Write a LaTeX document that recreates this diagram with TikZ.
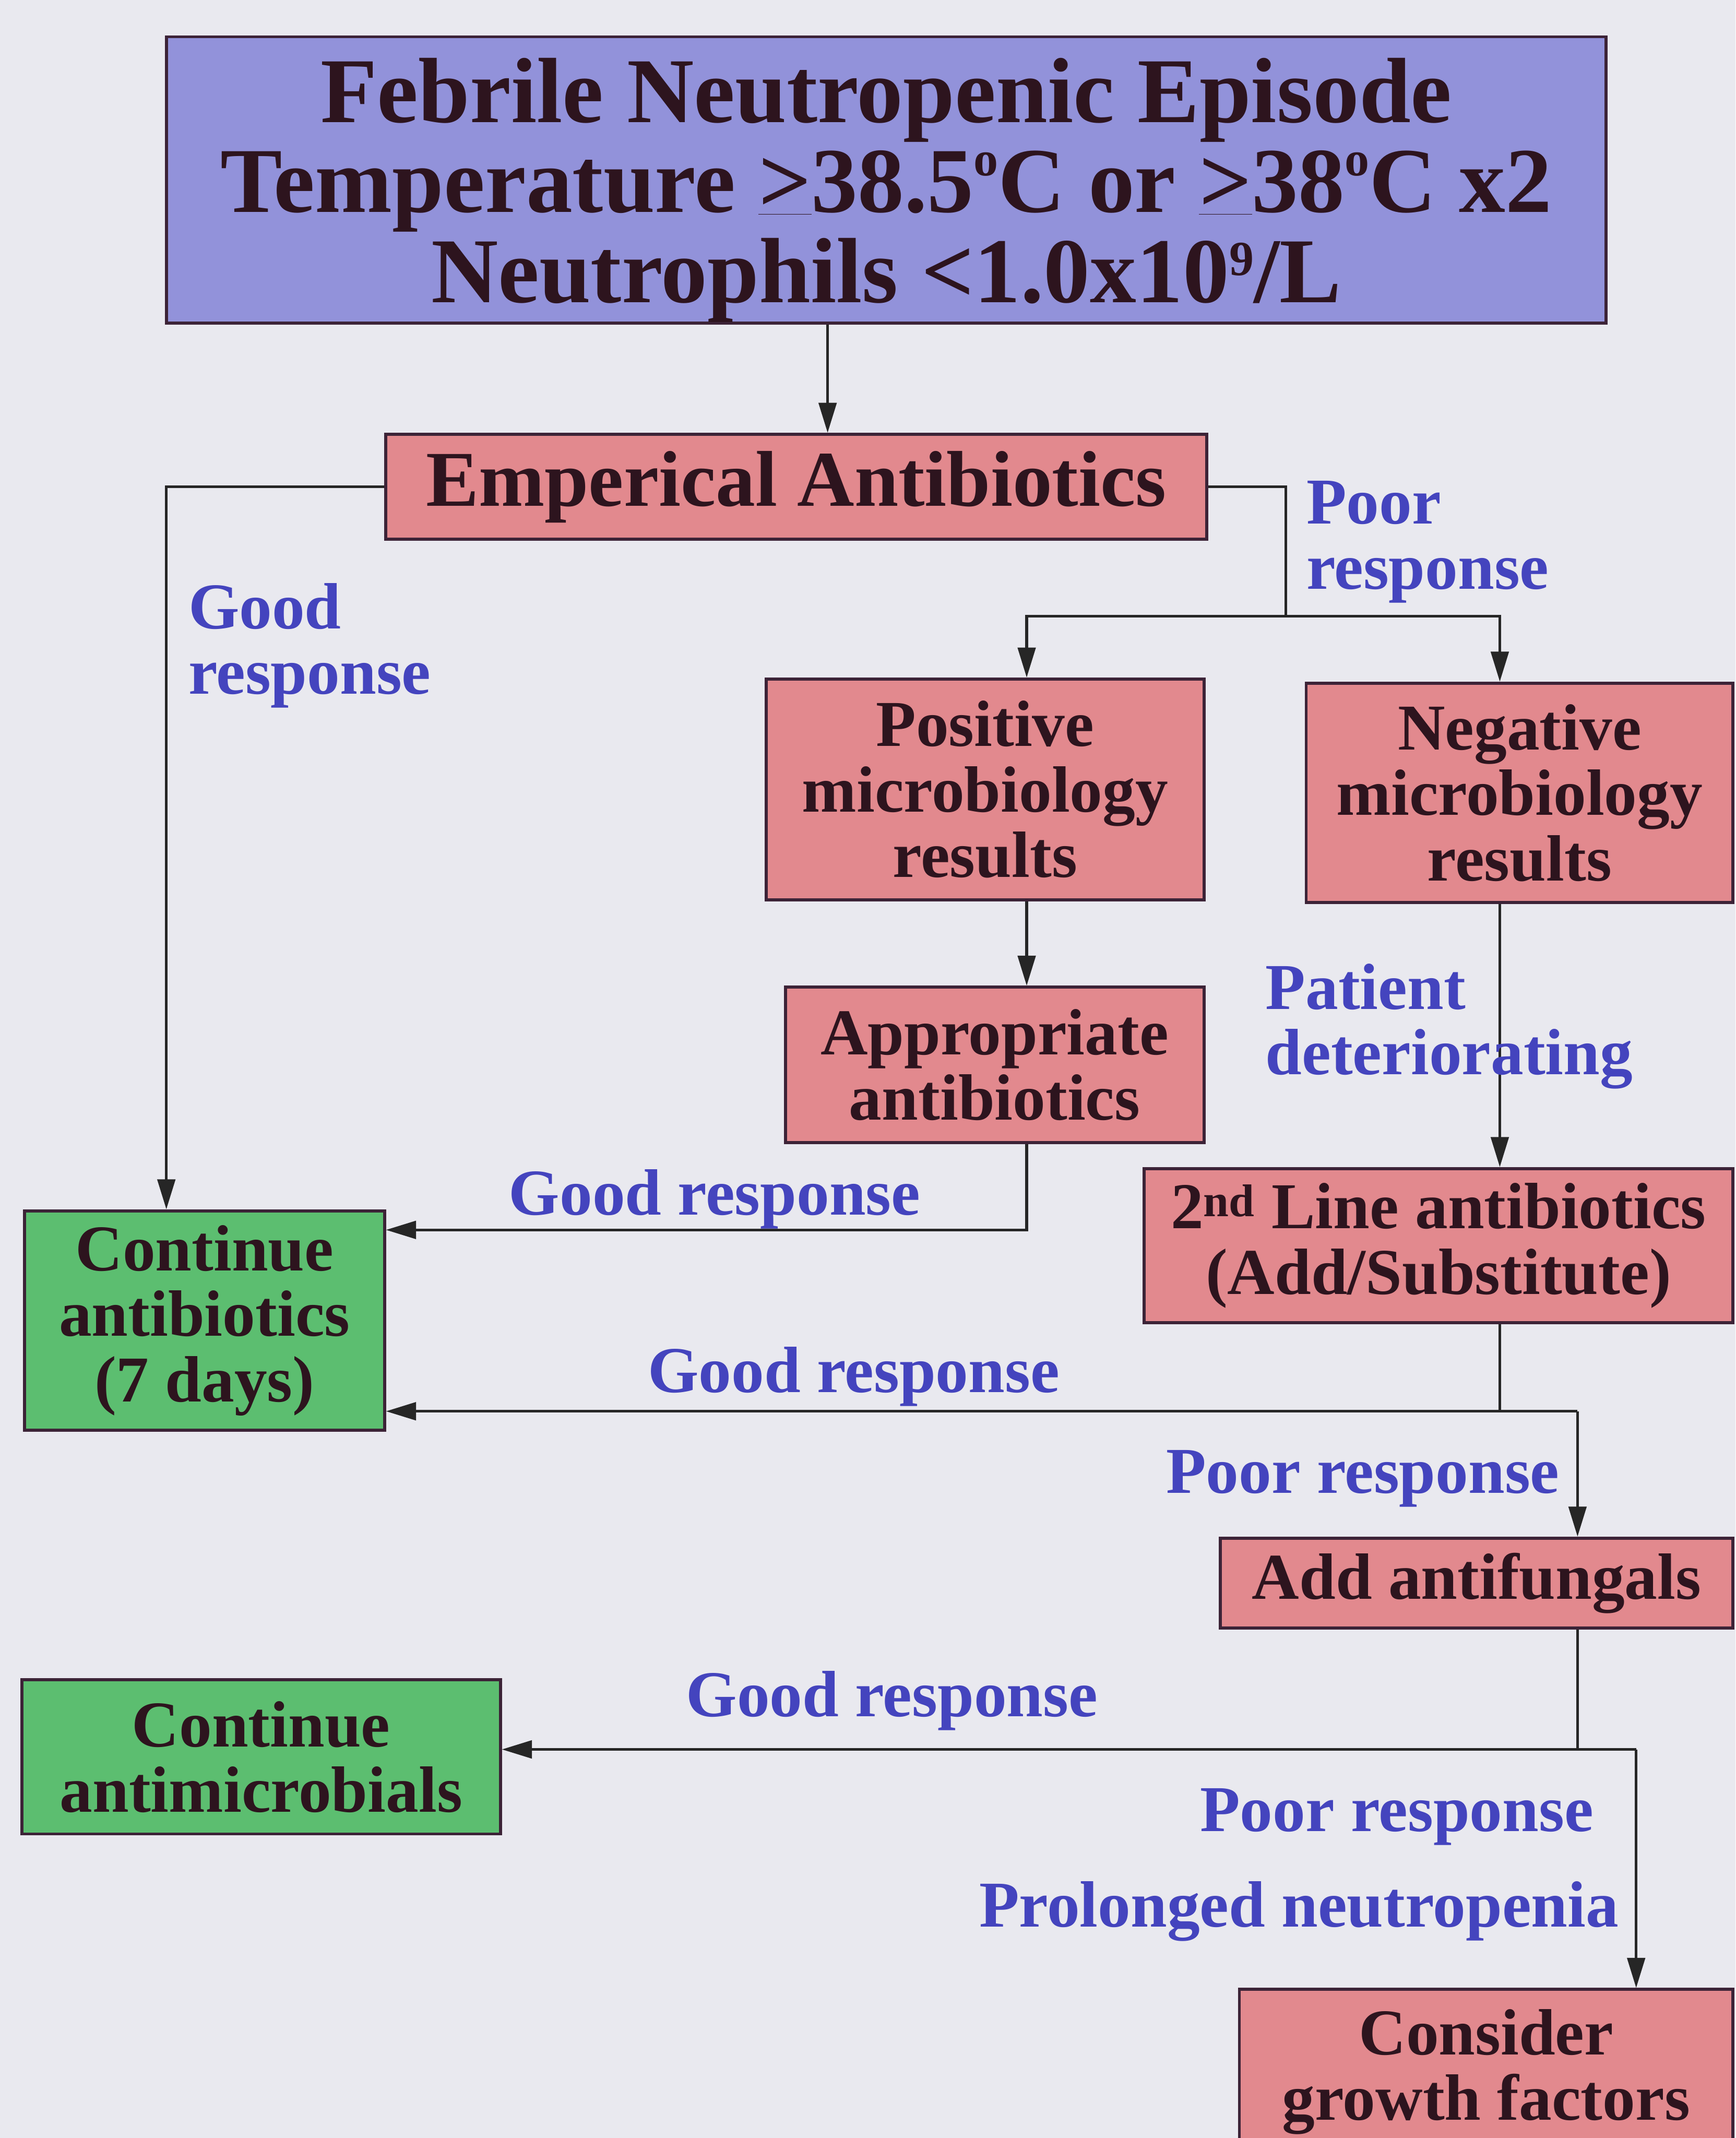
\documentclass[tikz,border=0pt]{standalone}
\usepackage{fontspec}
\setmainfont{Liberation Serif}
\usetikzlibrary{arrows.meta,calc}
\definecolor{bg}{RGB}{233,233,239}
\definecolor{titlefill}{RGB}{146,146,218}
\definecolor{pinkfill}{RGB}{226,137,142}
\definecolor{greenfill}{RGB}{92,190,112}
\definecolor{boxline}{RGB}{60,35,55}
\definecolor{boxtext}{RGB}{45,20,30}
\definecolor{lbl}{RGB}{68,68,190}
\newcommand{\supo}[2]{\raisebox{#1}{\fontsize{36}{36}\selectfont #2}}
\tikzset{
  box/.style={draw=boxline, line width=2.2pt, rectangle, inner sep=0pt, align=center,
    text=boxtext, font=\bfseries\fontsize{48}{48}\selectfont},
  pinkbox/.style={box, fill=pinkfill},
  greenbox/.style={box, fill=greenfill},
  conn/.style={line width=2pt, draw=black!85},
  arr/.style={conn, -{Triangle[length=22pt,width=13pt]}},
  lab/.style={text=lbl, inner sep=0pt, align=left, anchor=base west,
    font=\bfseries\fontsize{48}{48}\selectfont}
}
\begin{document}
\begin{tikzpicture}[x=1pt,y=-1pt]
\fill[bg] (0,0) rectangle (1273,1568);
\useasboundingbox (0,0) rectangle (1273,1568);

% nodes
\node[box, fill=titlefill, minimum width=1056pt, minimum height=210pt,
  font=\bfseries\fontsize{68}{66}\selectfont] (title) at (650,132)
  {\rule{0pt}{62pt}Febrile Neutropenic Episode\\Temperature \underline{>}38.5\supo{27pt}{o}C or \underline{>}38\supo{27pt}{o}C x2\\Neutrophils <1.0x10\supo{20pt}{9}/L};
\node[pinkbox, minimum width=602pt, minimum height=77pt,
  font=\bfseries\fontsize{58}{58}\selectfont] (emp) at (584,357) {Emperical Antibiotics};
\node[pinkbox, minimum width=321pt, minimum height=162pt] (pos) at (722.5,579)
  {Positive\\microbiology\\results};
\node[pinkbox, minimum width=313pt, minimum height=161pt] (neg) at (1114.5,581.5)
  {Negative\\microbiology\\results};
\node[pinkbox, minimum width=307pt, minimum height=114pt] (appr) at (729.5,781)
  {Appropriate\\antibiotics};
\node[pinkbox, minimum width=432pt, minimum height=113pt] (second) at (1055,913.5)
  {2\textsuperscript{nd} Line antibiotics\\(Add/Substitute)};
\node[greenbox, minimum width=264pt, minimum height=161pt] (cont1) at (150,968.5)
  {Continue\\antibiotics\\(7 days)};
\node[pinkbox, minimum width=376pt, minimum height=66pt] (addaf) at (1083,1161)
  {Add antifungals};
\node[greenbox, minimum width=351pt, minimum height=113pt] (cont2) at (191.5,1288.5)
  {Continue\\antimicrobials};
\node[pinkbox, minimum width=362pt, minimum height=121pt] (cons) at (1090,1519.5)
  {Consider\\growth factors};

% routing coordinates
\coordinate (xa) at (607,0);
\coordinate (xL) at (122,0);
\coordinate (split) at (943,452);
\coordinate (xP) at (753,0);
\coordinate (xN) at (1100,0);
\coordinate (xC) at (1157,0);
\coordinate (xD) at (1200,0);
\coordinate (ya) at (0,902);
\coordinate (yb) at (0,1035);
\coordinate (yc) at (0,1283);

% connectors
\draw[arr] (title.south -| xa) -- (emp.north -| xa);
\draw[arr] (emp.west) -- (emp.west -| xL) -- (cont1.north -| xL);
\draw[conn] (emp.east) -| (split);
\draw[arr] (split) -| (pos.north -| xP);
\draw[arr] (split) -| (neg.north -| xN);
\draw[arr] (pos.south -| xP) -- (appr.north -| xP);
\draw[arr] (appr.south -| xP) |- (cont1.east |- ya);
\draw[arr] (neg.south -| xN) -- (second.north -| xN);
\draw[conn] (second.south -| xN) -- (xN |- yb);
\draw[arr] (xC |- yb) -- (cont1.east |- yb);
\draw[arr] (xC |- yb) -- (addaf.north -| xC);
\draw[conn] (addaf.south -| xC) -- (xC |- yc);
\draw[arr] (xD |- yc) -- (cont2.east |- yc);
\draw[arr] (xD |- yc) -- (cons.north -| xD);

% labels (base = baseline of last line)
\node[lab] (l1) at (958,432) {Poor\\response};
\node[lab] (l2) at (138,509) {Good\\response};
\node[lab] (l3) at (928,788) {Patient\\deteriorating};
\node[lab] (l4) at (373,891) {Good response};
\node[lab] (l5) at (475,1021) {Good response};
\node[lab] (l6) at (855,1095) {Poor response};
\node[lab] (l7) at (503,1259) {Good response};
\node[lab] (l8) at (880,1343) {Poor response};
\node[lab] (l9) at (718,1413) {Prolonged neutropenia};
\end{tikzpicture}
\end{document}
